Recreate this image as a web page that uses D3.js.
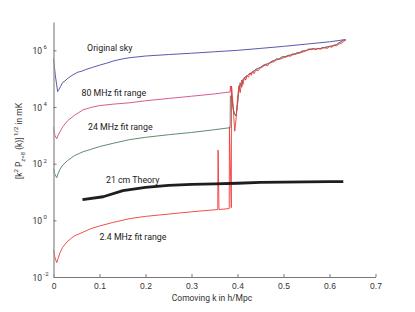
<!DOCTYPE html>
<html>
<head>
<meta charset="utf-8">
<script src="https://cdn.jsdelivr.net/npm/d3@7"></script>
<style>
  body { margin: 0; background: #fff; }
  svg { display: block; font-family: Roboto, "Liberation Sans", sans-serif; }
</style>
</head>
<body>
<svg id="chart" width="415" height="312"></svg>
<script>
// k in h/Mpc, values in mK
const skyK = [0, 0.004, 0.009, 0.012, 0.015, 0.02, 0.025, 0.03, 0.04, 0.053, 0.06, 0.07, 0.085, 0.1, 0.115, 0.13, 0.15, 0.166, 0.2, 0.25, 0.3, 0.35, 0.4, 0.45, 0.5, 0.55, 0.6, 0.635];
const skyVals = [5.2e5, 1.3e5, 3.5e4, 4.2e4, 5.2e4, 7.4e4, 8.3e4, 1.0e5, 1.3e5, 1.7e5, 1.8e5, 2.1e5, 2.5e5, 3.0e5, 3.5e5, 4.2e5, 5.0e5, 5.5e5, 6.3e5, 7.1e5, 7.9e5, 8.9e5, 1.0e6, 1.17e6, 1.38e6, 1.66e6, 2.0e6, 2.4e6];

const fitK = [0, 0.003, 0.007, 0.01, 0.014, 0.02, 0.03, 0.045, 0.064, 0.08, 0.1, 0.13, 0.166, 0.2, 0.25, 0.3, 0.35, 0.384];
const fit80Vals = [1950, 1000, 760, 1000, 1320, 2000, 3200, 5000, 7900, 9500, 1.12e4, 1.26e4, 1.41e4, 1.66e4, 2.0e4, 2.4e4, 2.9e4, 3.4e4];
const fit24Vals = [66, 42, 32, 45, 63, 89, 126, 190, 263, 316, 400, 525, 708, 850, 1050, 1260, 1580, 1860];

const fit2K = [0, 0.003, 0.007, 0.01, 0.014, 0.02, 0.03, 0.045, 0.064, 0.08, 0.1, 0.13, 0.166, 0.2, 0.25, 0.3, 0.357, 0.3578, 0.3598, 0.382, 0.3825, 0.3865, 0.387];
const fit2Vals = [0.093, 0.05, 0.032, 0.045, 0.071, 0.112, 0.178, 0.28, 0.38, 0.5, 0.63, 0.85, 1.15, 1.38, 1.66, 2.0, 2.4, 300, 2.4, 2.6, 2000, 2.8, 5.5e4];

// noisy high-k part where the fits break down
const tailK = [0.388, 0.391, 0.394, 0.397, 0.4, 0.403, 0.406, 0.409, 0.412, 0.415, 0.418, 0.421, 0.424, 0.427, 0.43, 0.433, 0.436, 0.44, 0.445, 0.45, 0.455, 0.46, 0.465, 0.47, 0.475, 0.48, 0.485, 0.49, 0.495, 0.5, 0.505, 0.51, 0.515, 0.52, 0.525, 0.53, 0.535, 0.54, 0.545, 0.55, 0.555, 0.56, 0.565, 0.57, 0.575, 0.58, 0.585, 0.59, 0.595, 0.6, 0.605, 0.61, 0.615, 0.62, 0.625, 0.63, 0.635];
const tailRedVals = [4.0e4, 7.9e3, 1.4e3, 4.0e3, 2.0e4, 5.6e4, 3.2e4, 8.9e4, 6.3e4, 1.12e5, 8.9e4, 1.32e5, 1.12e5, 1.58e5, 1.32e5, 1.78e5, 1.51e5, 2.0e5, 1.91e5, 2.4e5, 2.63e5, 3.02e5, 2.82e5, 3.55e5, 3.8e5, 3.98e5, 4.57e5, 4.79e5, 5.0e5, 5.5e5, 5.75e5, 6.3e5, 6.17e5, 6.9e5, 7.24e5, 7.59e5, 7.94e5, 8.51e5, 9.12e5, 9.8e5, 1.05e6, 1.07e6, 1.12e6, 1.07e6, 1.15e6, 1.10e6, 1.17e6, 1.23e6, 1.17e6, 1.35e6, 1.29e6, 1.48e6, 1.45e6, 1.66e6, 1.74e6, 2.0e6, 2.34e6];
const tailMixVals = [2.0e4, 7.9e3, 5.6e3, 4.8e3, 1.26e4, 4.0e4, 7.1e4, 5.0e4, 9.5e4, 1.0e5, 1.2e5, 1.26e5, 1.41e5, 1.58e5, 1.51e5, 1.78e5, 1.86e5, 2.14e5, 2.29e5, 2.51e5, 2.88e5, 3.16e5, 3.31e5, 3.63e5, 4.17e5, 4.37e5, 5.0e5, 4.9e5, 5.62e5, 6.03e5, 6.03e5, 6.61e5, 6.76e5, 7.41e5, 7.41e5, 8.32e5, 8.32e5, 9.33e5, 9.55e5, 1.0e6, 1.10e6, 1.10e6, 1.15e6, 1.10e6, 1.17e6, 1.15e6, 1.26e6, 1.26e6, 1.32e6, 1.38e6, 1.41e6, 1.51e6, 1.58e6, 1.82e6, 2.0e6, 2.29e6, 2.29e6];

const theoryK = [0.063, 0.108, 0.151, 0.2, 0.25, 0.3, 0.35, 0.4, 0.45, 0.5, 0.55, 0.6, 0.63];
const theoryVals = [5.4, 6.8, 11.2, 14.5, 17.0, 18.6, 19.5, 20.4, 22.0, 22.4, 22.9, 23.2, 23.4];

const xTicks = [0, 0.1, 0.2, 0.3, 0.4, 0.5, 0.6, 0.7];
const yTicks = [1e-2, 1e0, 1e2, 1e4, 1e6];

const seriesLabels = [
  { text: "Original sky", k: 0.073, v: 9.2e5 },
  { text: "80 MHz fit range", k: 0.061, v: 2.4e4 },
  { text: "24 MHz fit range", k: 0.075, v: 1.5e3 },
  { text: "21 cm Theory", k: 0.114, v: 20 },
  { text: "2.4 MHz fit range", k: 0.1, v: 0.2 }
];

const svg = d3.select("#chart");
const x = d3.scaleLinear().domain([0, 0.7]).range([53.5, 375.5]);
const y = d3.scaleLog().domain([1e-2, 1e7]).range([277, 22]);

const line = d3.line().x(d => x(d[0])).y(d => y(d[1]));
const zip = (ks, vs) => ks.map((k, i) => [k, vs[i]]);

const series = [
  { pts: zip(skyK, skyVals), color: "#4646a8", w: 0.9 },
  { pts: zip(fitK, fit80Vals).concat([[0.3845, 5.5e4]], zip(tailK, tailMixVals)), color: "#cf4a88", w: 0.9 },
  { pts: zip(fitK, fit24Vals).concat([[0.3845, 2.5e4]], zip(tailK, tailMixVals)), color: "#4e7e62", w: 0.9 },
  { pts: zip(fit2K, fit2Vals).concat(zip(tailK, tailRedVals)), color: "#ee3a3a", w: 0.9 },
  { pts: zip(theoryK, theoryVals), color: "#1e1e1e", w: 2.8 }
];

svg.append("g")
  .selectAll("path")
  .data(series)
  .join("path")
  .attr("fill", "none")
  .attr("stroke", d => d.color)
  .attr("stroke-width", d => d.w)
  .attr("stroke-linejoin", "round")
  .attr("d", d => line(d.pts));

// axes, ticks pointing inward
const xAxis = svg.append("g")
  .attr("transform", `translate(0,${y(1e-2)})`)
  .call(d3.axisBottom(x).tickValues(xTicks).tickFormat(d3.format("")).tickSize(-3).tickSizeOuter(0).tickPadding(6));
xAxis.select(".domain").attr("stroke", "#777");
xAxis.selectAll(".tick line").attr("stroke", "#777");
xAxis.selectAll(".tick text").attr("font-size", 8.5).attr("fill", "#333").attr("font-family", null);

const yAxis = svg.append("g")
  .attr("transform", `translate(${x(0)},0)`)
  .call(d3.axisLeft(y).tickValues(yTicks).tickFormat("").tickSize(-3).tickSizeOuter(0));
yAxis.select(".domain").attr("stroke", "#999").attr("stroke-width", 1.4);
yAxis.selectAll(".tick line").attr("stroke", "#777");

svg.append("g")
  .selectAll("text")
  .data(yTicks)
  .join("text")
  .attr("x", 42)
  .attr("y", d => y(d) + 3.5)
  .attr("text-anchor", "end")
  .attr("font-size", 8.5)
  .attr("fill", "#333")
  .text("10");
svg.append("g")
  .selectAll("text")
  .data(yTicks)
  .join("text")
  .attr("x", 43.5)
  .attr("y", d => y(d) - 1)
  .attr("font-size", 6)
  .attr("fill", "#333")
  .text(d => String(Math.round(Math.log10(d))));

svg.append("text")
  .attr("x", 212)
  .attr("y", 301)
  .attr("text-anchor", "middle")
  .attr("font-size", 8.5)
  .attr("fill", "#333")
  .text("Comoving k in h/Mpc");

const yTitle = svg.append("text")
  .attr("transform", "translate(22,141) rotate(-90)")
  .attr("text-anchor", "middle")
  .attr("font-size", 8.5)
  .attr("fill", "#333");
yTitle.append("tspan").text("[k");
yTitle.append("tspan").attr("font-size", 6).attr("dy", -4).text("2");
yTitle.append("tspan").attr("dy", 4).text(" P");
yTitle.append("tspan").attr("font-size", 6).attr("dy", 2.5).text("z=8");
yTitle.append("tspan").attr("dy", -2.5).text(" (k)]");
yTitle.append("tspan").attr("font-size", 6).attr("dy", -4).text(" 1/2");
yTitle.append("tspan").attr("dy", 4).text(" in mK");

svg.append("g")
  .selectAll("text")
  .data(seriesLabels)
  .join("text")
  .attr("x", d => x(d.k))
  .attr("y", d => y(d.v))
  .attr("font-size", 8.8)
  .attr("fill", "#222")
  .text(d => d.text);
</script>
</body>
</html>
